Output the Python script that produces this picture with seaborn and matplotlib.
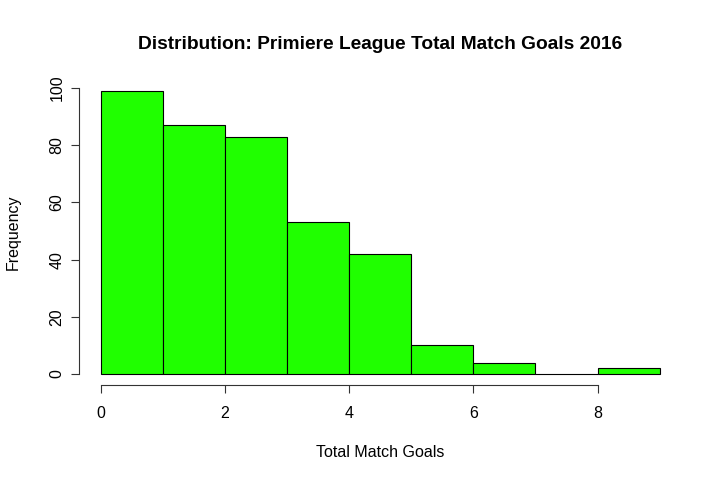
import numpy as np
import pandas as pd
import matplotlib
matplotlib.use("Agg")
import matplotlib.pyplot as plt
import seaborn as sns

# Histogram of total match goals (counts)
bin_edges = [0, 1, 2, 3, 4, 5, 6, 7, 8, 9]
goal_bins = [0, 1, 2, 3, 4, 5, 6, 7, 8]
frequency = [99, 87, 83, 53, 42, 10, 4, 0, 2]
x_ticks = [0, 2, 4, 6, 8]
y_ticks = [0, 20, 40, 60, 80, 100]

sns.set_style("white")
plt.rcParams['font.family'] = ['Liberation Sans', 'DejaVu Sans']
plt.rcParams['text.color'] = 'black'
plt.rcParams['axes.labelcolor'] = 'black'
plt.rcParams['xtick.color'] = 'black'
plt.rcParams['ytick.color'] = 'black'

df = pd.DataFrame({'goals': np.array(goal_bins) + 0.5, 'count': frequency})

fig = plt.figure(figsize=(7.23, 4.84), dpi=100)
ax = fig.add_axes([0.1087, 0.2039, 0.8346, 0.6318])

sns.histplot(data=df, x='goals', weights='count', bins=bin_edges,
             color='#20FF00', alpha=1, edgecolor='black', linewidth=0.8, ax=ax)

ax.set_xlim(-0.36, 9.36)
ax.set_ylim(-3.96, 102.96)
ax.set_xticks(x_ticks)
ax.set_yticks(y_ticks)
ax.set_yticklabels([str(v) for v in y_ticks], rotation=90, va='center')

for side in ['top', 'right']:
    ax.spines[side].set_visible(False)
ax.spines['left'].set_bounds(0, 100)
ax.spines['bottom'].set_bounds(0, 8)
for side in ['left', 'bottom']:
    ax.spines[side].set_color('#333333')
    ax.spines[side].set_linewidth(0.8)
ax.tick_params(axis='both', direction='out', length=6, width=0.8,
               color='#333333', labelsize=11.5, labelcolor='black',
               left=True, bottom=True)
ax.tick_params(axis='x', pad=9)
ax.tick_params(axis='y', pad=4)

ax.set_xlabel('Total Match Goals', fontsize=11.5, labelpad=17)
ax.set_ylabel('Frequency', fontsize=11.5, labelpad=21)
ax.set_title('Distribution: Primiere League Total Match Goals 2016',
             fontsize=13.8, fontweight='bold', pad=22, color='black')

plt.savefig('out.png', dpi=100)
plt.close()
